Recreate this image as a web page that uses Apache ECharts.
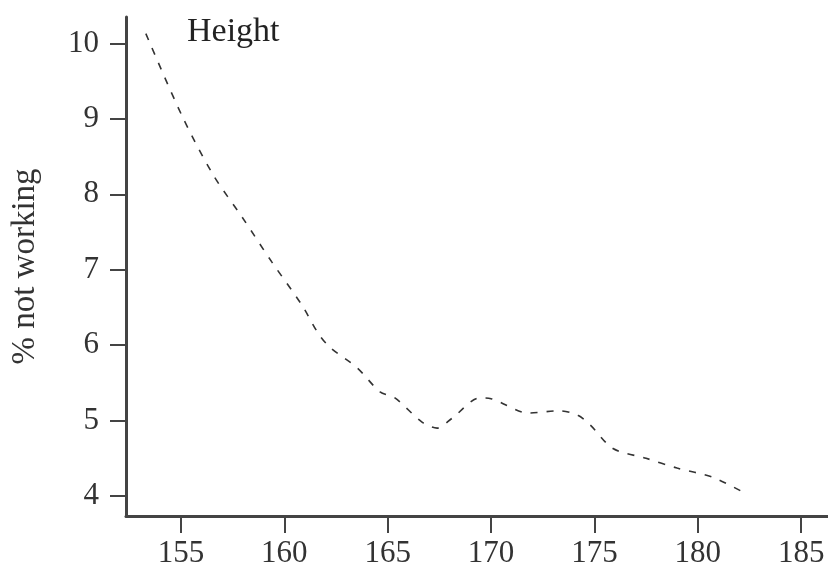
<!DOCTYPE html>
<html>
<head>
<meta charset="utf-8">
<script src="https://cdn.jsdelivr.net/npm/echarts@6/dist/echarts.min.js"></script>
<style>
  html, body { margin: 0; padding: 0; background: #fff; }
  #chart { width: 828px; height: 573px; }
</style>
</head>
<body>
<div id="chart"></div>
<script>
// height (cm) vs % not working
const heights = [153.3, 155.05, 156.55, 157.95, 159.4, 160.85, 161.63, 162.21, 163.52, 164.63,
  165.35, 166.66, 167.39, 168.11, 169.47, 170.0, 171.8, 173.3, 174.2, 174.8,
  175.9, 177.5, 179.0, 180.7, 182.2];
const notWorking = [10.13, 9.04, 8.26, 7.70, 7.10, 6.53, 6.16, 5.97, 5.70, 5.38,
  5.30, 4.98, 4.90, 5.03, 5.30, 5.29, 5.10, 5.13, 5.07, 4.94,
  4.63, 4.50, 4.37, 4.25, 4.05];
const xTicks = [155, 160, 165, 170, 175, 180, 185];
const yTicks = [4, 5, 6, 7, 8, 9, 10];

const serif = '"Liberation Serif", "DejaVu Serif", serif';
const axisColor = '#444';

const chart = echarts.init(document.getElementById('chart'));

chart.setOption({
  animation: false,
  title: {
    text: 'Height',
    left: 182,
    top: 10,
    textStyle: { fontFamily: serif, fontSize: 34, fontWeight: 'normal', color: '#222' },
  },
  grid: { left: 126, right: 0, top: 17, bottom: 57, containLabel: false },
  xAxis: {
    type: 'value',
    min: 152.34,
    max: 186.3,
    axisLine: { show: true, lineStyle: { color: axisColor, width: 3 } },
    axisTick: { show: true, inside: false, length: 17, lineStyle: { color: axisColor, width: 2 }, customValues: xTicks },
    axisLabel: { margin: 22, fontFamily: serif, fontSize: 31, color: '#333', customValues: xTicks },
    splitLine: { show: false },
  },
  yAxis: {
    type: 'value',
    min: 3.735,
    max: 10.35,
    name: '% not working',
    nameLocation: 'middle',
    nameGap: 84,
    nameTextStyle: { fontFamily: serif, fontSize: 33, color: '#333' },
    axisLine: { show: true, lineStyle: { color: axisColor, width: 3 } },
    axisTick: { show: true, inside: false, length: 16, lineStyle: { color: axisColor, width: 2 }, customValues: yTicks },
    axisLabel: { margin: 27, fontFamily: serif, fontSize: 31, color: '#333', customValues: yTicks },
    splitLine: { show: false },
  },
  series: [
    {
      type: 'line',
      data: heights.map((h, i) => [h, notWorking[i]]),
      smooth: 0.3,
      symbol: 'none',
      lineStyle: { color: '#333', width: 1.6, type: [7, 9] },
    },
  ],
});
</script>
</body>
</html>
